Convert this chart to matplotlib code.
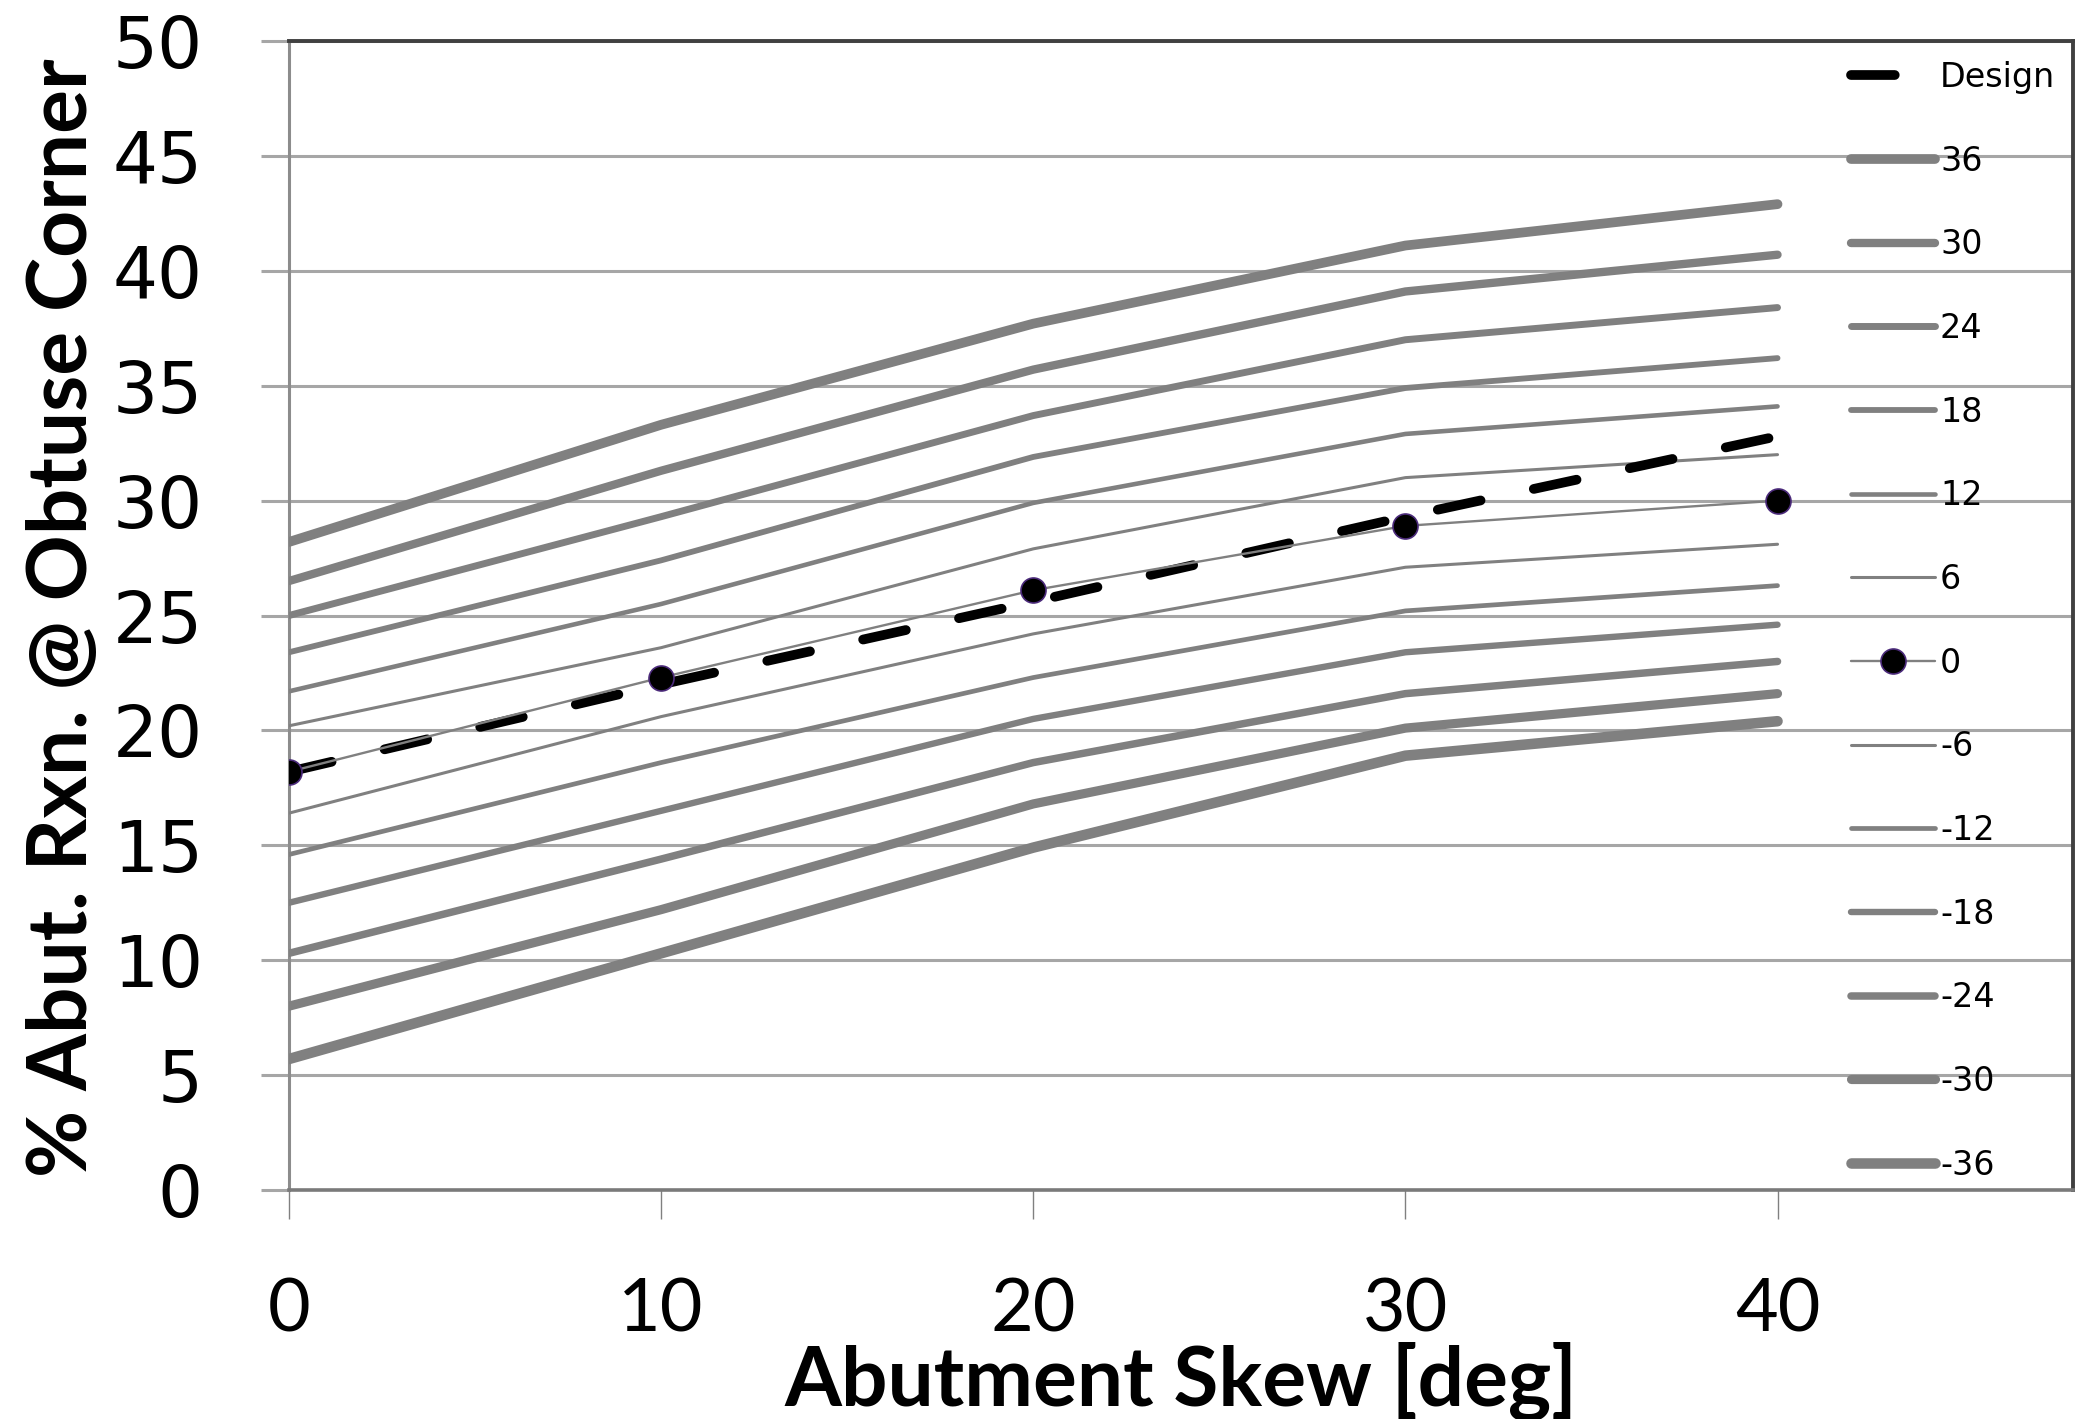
import matplotlib
matplotlib.use("Agg")
import matplotlib.pyplot as plt

# ---------------- data ----------------
skew = [0, 10, 20, 30, 40]
design = [18.2, 22.0, 25.6, 29.3, 32.8]
s_p36 = [28.2, 33.3, 37.7, 41.1, 42.9]
s_p30 = [26.5, 31.3, 35.7, 39.1, 40.7]
s_p24 = [25.0, 29.3, 33.7, 37.0, 38.4]
s_p18 = [23.4, 27.4, 31.9, 34.9, 36.2]
s_p12 = [21.7, 25.5, 29.9, 32.9, 34.1]
s_p6 = [20.2, 23.6, 27.9, 31.0, 32.0]
s_0 = [18.2, 22.3, 26.1, 28.9, 30.0]
s_m6 = [16.4, 20.6, 24.2, 27.1, 28.1]
s_m12 = [14.6, 18.6, 22.3, 25.2, 26.3]
s_m18 = [12.5, 16.5, 20.5, 23.4, 24.6]
s_m24 = [10.3, 14.4, 18.6, 21.6, 23.0]
s_m30 = [8.0, 12.2, 16.8, 20.1, 21.6]
s_m36 = [5.7, 10.3, 14.9, 18.9, 20.4]
series_labels = ["36", "30", "24", "18", "12", "6", "0",
                 "-6", "-12", "-18", "-24", "-30", "-36"]
series_values = [s_p36, s_p30, s_p24, s_p18, s_p12, s_p6, s_0,
                 s_m6, s_m12, s_m18, s_m24, s_m30, s_m36]
x_ticks = [0, 10, 20, 30, 40]
y_ticks = [0, 5, 10, 15, 20, 25, 30, 35, 40, 45, 50]

# ---------------- styles ----------------
line_widths = [7.0, 6.0, 5.0, 4.2, 3.3, 2.2, 1.7, 2.2, 3.4, 4.6, 5.4, 6.6, 7.6]
GRAY = "#808080"
GRID = "#a6a6a6"

W, H = 2078, 1419
fig = plt.figure(figsize=(W / 100, H / 100), dpi=100)
ax = fig.add_axes([289 / W, 1 - 1190 / H, (2073 - 289) / W, (1190 - 41) / H])

handles = []
(hd,) = ax.plot(skew, design, color="black", lw=7.0, zorder=5,
                dash_capstyle="round", solid_capstyle="round")
hd.set_dashes((4.5, 5.6))
handles.append(hd)
for lab, vals, lw in zip(series_labels, series_values, line_widths):
    if lab == "0":
        (h,) = ax.plot(skew, vals, color=GRAY, lw=lw, marker="o", markersize=18,
                       markerfacecolor="black", markeredgecolor="#4b2a7a",
                       markeredgewidth=1.2, zorder=6, solid_capstyle="round")
    else:
        (h,) = ax.plot(skew, vals, color=GRAY, lw=lw, zorder=3,
                       solid_capstyle="round")
    handles.append(h)

ax.set_xlim(0, 47.94)
ax.set_ylim(0, 50)
ax.set_xticks(x_ticks)
ax.set_yticks(y_ticks)
ax.set_xticklabels([str(v) for v in x_ticks], fontfamily="Lato", fontsize=53)
ax.set_yticklabels([str(v) for v in y_ticks], fontfamily="DejaVu Sans", fontsize=51)
ax.yaxis.grid(True, color=GRID, lw=2.2, zorder=1)
ax.set_axisbelow(True)
ax.tick_params(axis="y", direction="out", length=20, width=2.2, color=GRID, pad=42)
ax.tick_params(axis="x", direction="out", length=21, width=1.0, color=GRAY, pad=42)

for side in ("top", "right"):
    ax.spines[side].set_color("#404040")
    ax.spines[side].set_linewidth(2.8)
ax.spines["bottom"].set_color("#7a7a7a")
ax.spines["bottom"].set_linewidth(2.6)
ax.spines["left"].set_color("#8c8c8c")
ax.spines["left"].set_linewidth(2.2)

leg = ax.legend(handles, ["Design"] + series_labels, loc="upper left",
                bbox_to_anchor=(1851 / W, 1 - 61 / H), bbox_transform=fig.transFigure,
                frameon=False, handlelength=2.52, handletextpad=0.15,
                labelspacing=1.52, borderpad=0, borderaxespad=0, numpoints=1,
                prop={"family": "DejaVu Sans", "size": 24})
leg.set_zorder(10)

fig.text((289 + 2073) / 2 / W, 1 - 1381 / H, "Abutment Skew [deg]",
         ha="center", va="center", fontfamily="Lato", fontweight="bold", fontsize=59)
fig.text(64 / W, 1 - 618 / H, "% Abut. Rxn. @ Obtuse Corner", rotation=90,
         ha="center", va="center", fontfamily="Lato", fontweight="bold", fontsize=59)

fig.savefig("out.png", dpi=100)
